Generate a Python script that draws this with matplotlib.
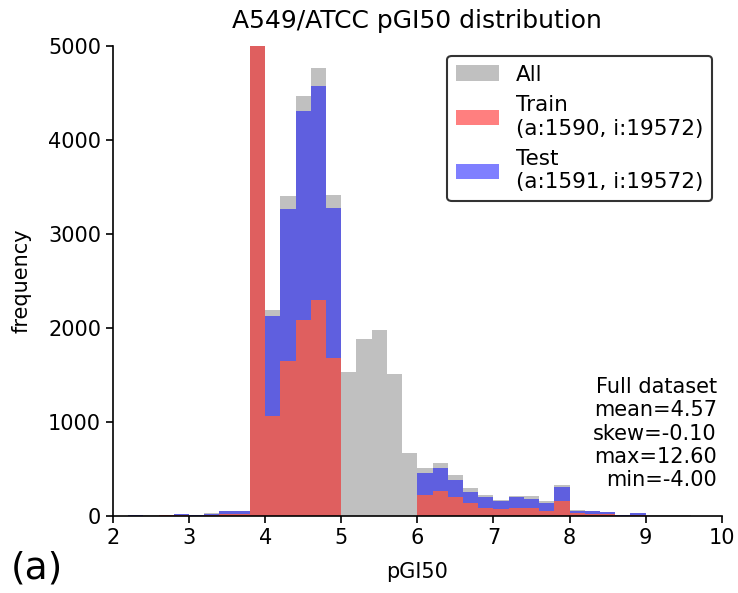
import numpy as np
import matplotlib
matplotlib.use("Agg")
import matplotlib.pyplot as plt

# histogram bins of width 0.2 from 2 to 10
bin_edges = np.round(np.arange(2.0, 10.01, 0.2), 1)

# counts (per bin)
all_counts = [3, 15, 5, 15, 25, 11, 32, 55, 55, 5200,
              2193, 3401, 4470, 4765, 3419, 1530, 1880, 1975, 1510, 665,
              515, 565, 437, 302, 227, 170, 216, 209, 156, 327,
              64, 53, 43, 14, 32, 7, 11, 5, 2, 2]
train_counts = [0, 3, 1, 5, 8, 3, 14, 22, 22, 5200,
                1066, 1645, 2082, 2303, 1677, 0, 0, 0, 0, 0,
                220, 262, 198, 134, 88, 75, 85, 88, 49, 163,
                32, 25, 18, 4, 12, 0, 0, 0, 0, 0]
test_counts = [0, 5, 1, 5, 17, 8, 11, 33, 33, 0,
               1063, 1621, 2225, 2278, 1599, 0, 0, 0, 0, 0,
               234, 250, 182, 125, 114, 88, 114, 96, 89, 142,
               25, 24, 21, 2, 16, 0, 0, 0, 0, 0]

stats_text = "Full dataset\nmean=4.57\nskew=-0.10\nmax=12.60\nmin=-4.00"

fig = plt.figure(figsize=(7.38, 5.93), dpi=100)
ax = fig.add_axes([0.153, 0.130, 0.825, 0.792])

lefts = bin_edges[:-1]
width = 0.2
train = np.array(train_counts)
test = np.array(test_counts)

ax.bar(lefts, all_counts, width=width, align='edge', color='silver', label='All')
ax.bar(lefts, train, width=width, align='edge', color='red', alpha=0.5,
       label='Train\n(a:1590, i:19572)')
ax.bar(lefts, test, width=width, bottom=train, align='edge', color='blue',
       alpha=0.5, label='Test\n(a:1591, i:19572)')

ax.set_xlim(2, 10)
ax.set_ylim(0, 5000)
ax.set_xticks(range(2, 11))
ax.set_yticks(range(0, 5001, 1000))
ax.tick_params(labelsize=15, width=1.2, length=5)
ax.spines['top'].set_visible(False)
ax.spines['right'].set_visible(False)
for s in ['left', 'bottom']:
    ax.spines[s].set_linewidth(1.2)
ax.set_xlabel('pGI50', fontsize=15, labelpad=10)
ax.set_ylabel('frequency', fontsize=15, labelpad=12)
ax.set_title('A549/ATCC pGI50 distribution', fontsize=18, pad=13)

leg = ax.legend(loc='upper right', fontsize=15.5, frameon=True, fancybox=True,
                edgecolor='#333333', framealpha=1, borderaxespad=0.45)
leg.get_frame().set_linewidth(1.5)

ax.text(0.992, 0.055, stats_text, transform=ax.transAxes, ha='right', va='bottom',
        multialignment='right', fontsize=15)

fig.text(0.015, 0.024, '(a)', fontsize=27)

fig.savefig('out.png', dpi=100)
